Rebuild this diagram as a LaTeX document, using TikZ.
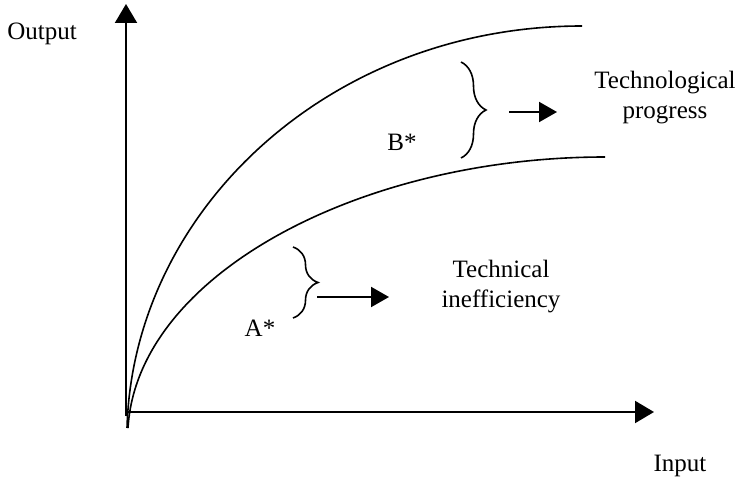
\documentclass[tikz,border=0pt]{standalone}
\usepackage{fontspec}
\setmainfont{Liberation Serif}
\usetikzlibrary{arrows.meta,decorations.pathreplacing}
\begin{document}
\begin{tikzpicture}[x=1pt,y=-1pt,
  axis/.style={line width=2pt,-{Triangle[length=19pt,width=22pt]}},
  pointer/.style={line width=2pt,-{Triangle[length=18pt,width=20pt]}},
  curve/.style={line width=1.6pt},
  bracebox/.style={line width=1.6pt,decorate,decoration={brace,amplitude=25pt}},
  lbl/.style={font=\fontsize{25}{30}\selectfont,inner sep=0pt,align=center}]
\useasboundingbox (0,0) rectangle (745,481);
\coordinate (O) at (126,412);
\coordinate (ytip) at (126,4);
\coordinate (xtip) at (654,412);
\draw[line width=2pt] (126,416) -- (O);
\draw[axis] (O) -- (ytip);
\draw[axis] (O) -- (xtip);
\coordinate (u0) at (127,428);
\coordinate (u1) at (582,26);
\coordinate (l0) at (128,428);
\coordinate (l1) at (605,157);
\draw[curve] (u0) .. controls (133,210) and (330,26) .. (u1);
\draw[curve] (l0) .. controls (137,275) and (360,157) .. (l1);
\coordinate (bt) at (461,62);
\coordinate (bb) at (461,158);
\draw[bracebox] (bt) -- (bb);
\coordinate (at) at (293,247);
\coordinate (ab) at (293,318);
\draw[bracebox] (at) -- (ab);
\coordinate (bs) at (509,112);
\coordinate (be) at (557,112);
\draw[pointer] (bs) -- (be);
\coordinate (as) at (317,297);
\coordinate (ae) at (389,297);
\draw[pointer] (as) -- (ae);
\node[lbl] (out) at (42,34) {Output};
\node[lbl] (in) at (680,466) {Input};
\node[lbl] (bstar) at (402,142) {B*};
\node[lbl] (astar) at (260,328) {A*};
\node[lbl] (tech) at (501,287) {Technical\\inefficiency};
\node[lbl] (prog) at (665,98) {Technological\\progress};
\end{tikzpicture}
\end{document}
